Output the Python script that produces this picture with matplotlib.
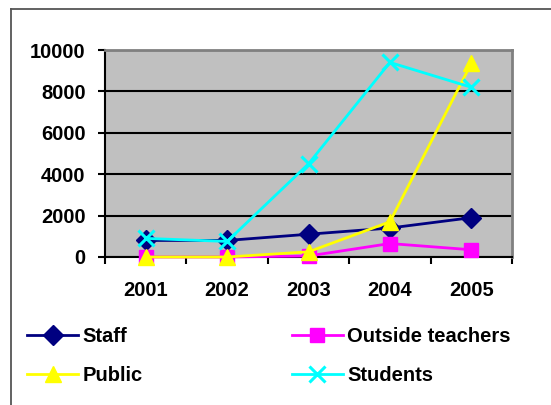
import matplotlib
matplotlib.use('Agg')
import matplotlib.pyplot as plt
from matplotlib.lines import Line2D

plt.rcParams['font.family'] = ['Liberation Sans', 'DejaVu Sans']
plt.rcParams['font.weight'] = 'bold'

# ── Data ──────────────────────────────────────────────────────────────────────
years = ['2001', '2002', '2003', '2004', '2005']
staff = [800, 800, 1100, 1400, 1900]
outside_teachers = [0, 0, 50, 650, 350]
public = [0, 0, 250, 1700, 9350]
students = [900, 750, 4500, 9400, 8200]

series = [
    ('Staff', staff, '#000080', 'D', 10),
    ('Outside teachers', outside_teachers, '#FF00FF', 's', 10),
    ('Public', public, '#FFFF00', '^', 11),
    ('Students', students, '#00FFFF', 'x', 11),
]

W, H = 551, 405
FS = 14.5
fig = plt.figure(figsize=(W / 100, H / 100), dpi=100)
ax = fig.add_axes([105 / W, 1 - 257 / H, (512 - 105) / W, (257 - 50) / H])
ax.set_facecolor('#C0C0C0')

xs = list(range(len(years)))
handles = {}
for name, vals, col, mk, ms in series:
    (h,) = ax.plot(xs, vals, color=col, lw=2, marker=mk, markersize=ms,
                   markerfacecolor=col, markeredgecolor=col,
                   markeredgewidth=2.2 if mk == 'x' else 1, clip_on=False,
                   label=name, zorder=4)
    handles[name] = h

ax.set_xlim(-0.5, len(years) - 0.5)
ax.set_ylim(0, 10000)
ax.set_yticks(range(0, 10001, 2000))
ax.grid(axis='y', color='black', lw=1.5)
ax.set_axisbelow(True)

# category labels centred, tick marks on the boundaries
ax.set_xticks(xs)
ax.set_xticklabels(years)
ax.set_xticks([x - 0.5 for x in range(len(years) + 1)], minor=True)
ax.tick_params(axis='x', which='major', length=0, pad=17, labelsize=FS)
ax.tick_params(axis='x', which='minor', length=5, width=1.5, direction='out')
ax.tick_params(axis='y', length=5, width=1.5, direction='out', pad=9,
               labelsize=FS)

for s in ('top', 'right'):
    ax.spines[s].set_color('#808080')
    ax.spines[s].set_linewidth(2)
for s in ('left', 'bottom'):
    ax.spines[s].set_color('black')
    ax.spines[s].set_linewidth(1.5)

# outer chart border (cropped on right and bottom)
fig.add_artist(Line2D([11 / W, 11 / W], [0, 1 - 9 / H], color='#555555', lw=1.3))
fig.add_artist(Line2D([11 / W, 1], [1 - 9 / H, 1 - 9 / H], color='#555555', lw=1.3))

order = ['Staff', 'Public', 'Outside teachers', 'Students']
fig.legend([handles[n] for n in order], order, ncol=2,
           loc='upper left', bbox_to_anchor=(27 / W, 1 - 327 / H),
           frameon=False, fontsize=FS, handlelength=2.55, handletextpad=0.2,
           columnspacing=7.4, labelspacing=1.0, borderaxespad=0,
           borderpad=0)

fig.savefig('out.png', dpi=100, facecolor='white')
